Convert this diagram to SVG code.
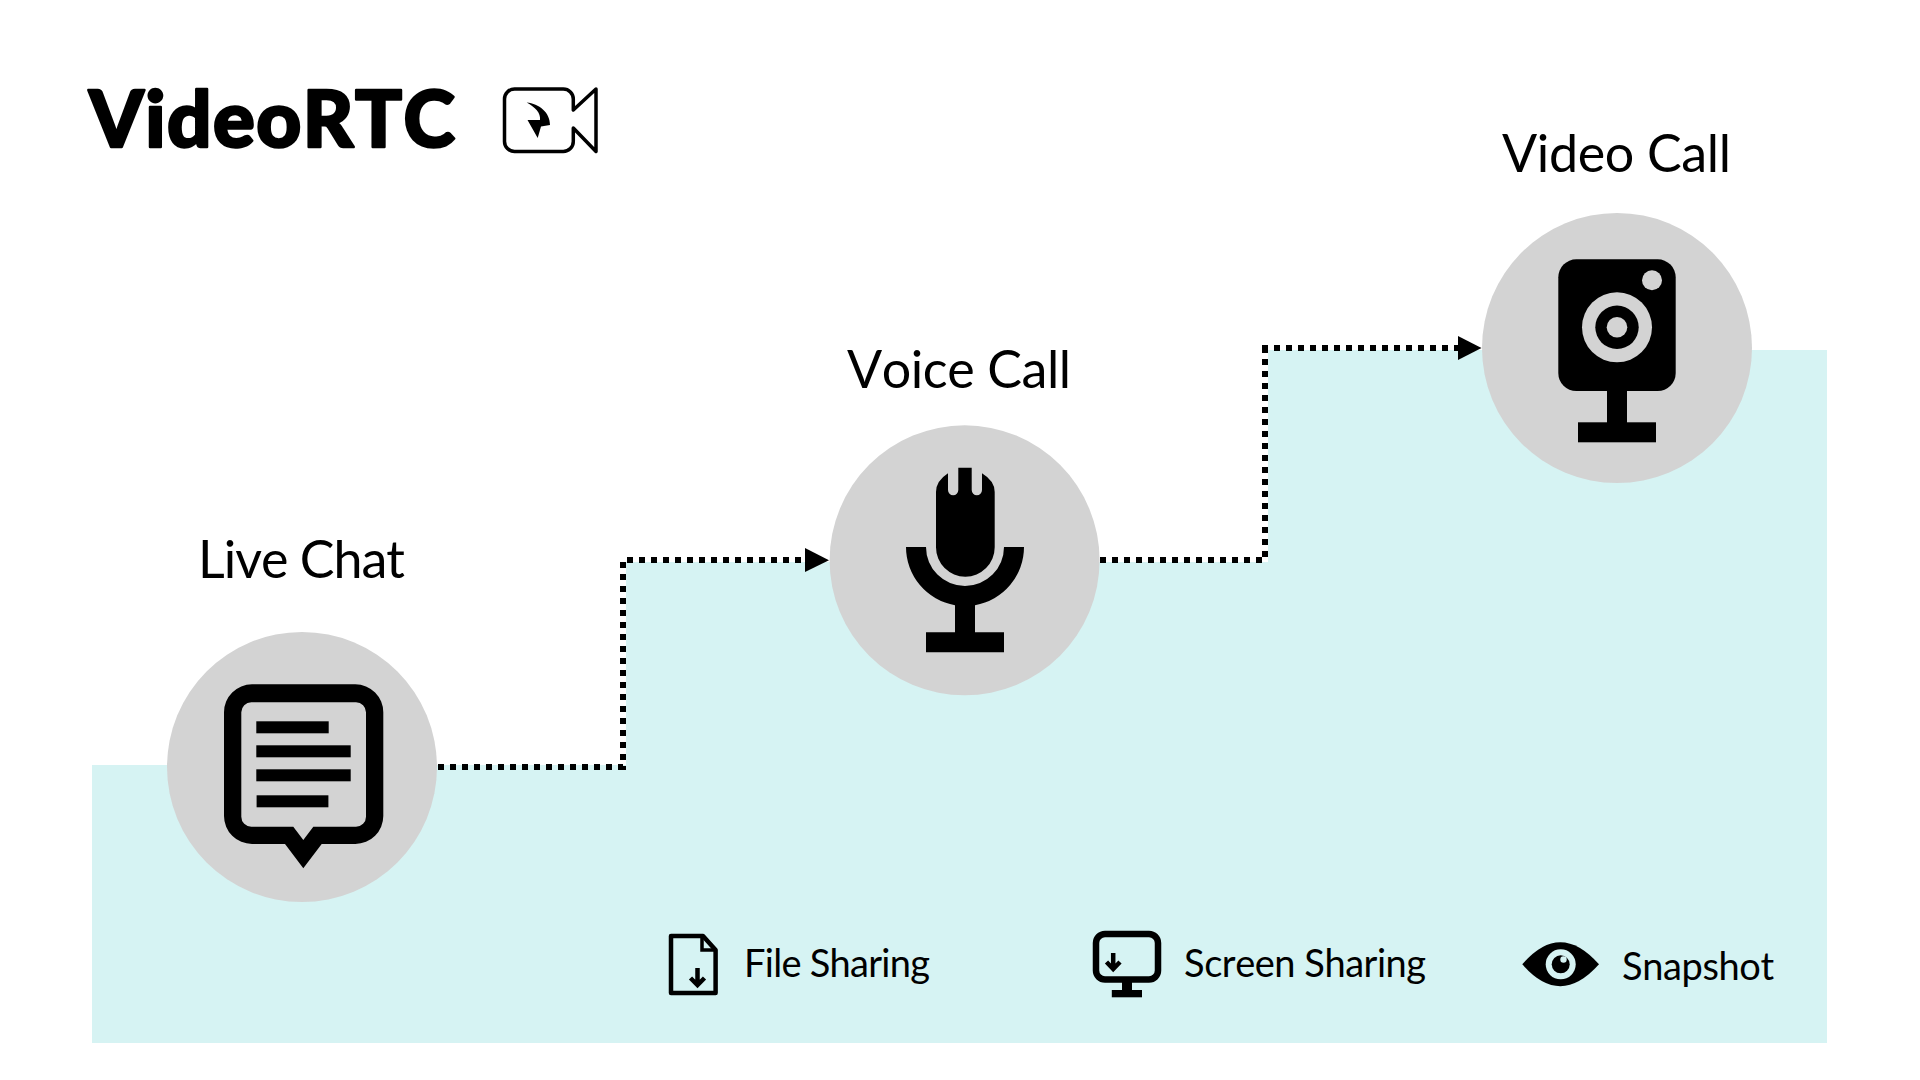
<svg xmlns="http://www.w3.org/2000/svg" width="1920" height="1080" viewBox="0 0 1920 1080">
<style>
text{font-family:"Lato","Noto Sans",sans-serif;fill:#000;font-kerning:none}
.lab{font-size:52px}
.leg{font-size:38px}
.title{font-size:78px;font-weight:900;stroke:#000;stroke-width:2.5px;stroke-linejoin:round}
.disc{fill:#d3d3d3}
.tint{fill:#d6f3f3}
.conn{fill:none;stroke:#000;stroke-width:6;stroke-dasharray:6 6}
.ln{fill:none;stroke:#000;stroke-width:4.5}
</style>
<rect width="1920" height="1080" fill="#fff"/>
<path id="steps" class="tint" d="M92 765H626V562H1268V350H1827V1043H92Z"/>
<g id="connectors">
<path class="conn" d="M438 767H623V560H806"/>
<path d="M805 548L829 560.300L805 572Z"/>
<path class="conn" d="M1100 560H1265V348M1265 345V353M1274 348H1458"/>
<path d="M1458 336L1481.500 348L1458 360Z"/>
</g>
<g id="title">
<text class="title" x="89" y="147" textLength="366">VideoRTC</text>
<g id="logo">
<path d="M573.300 110V99A10 10 0 0 0 563.300 89H514.500A10 10 0 0 0 504.500 99V141.500A10 10 0 0 0 514.500 151.500H563.300A10 10 0 0 0 573.300 141.500V128L596 151.500V89Z" fill="none" stroke="#000" stroke-width="3.500" stroke-linejoin="round"/>
<path d="M526.700 102.500C539 104 550 112 550 125L541 126.500L537.700 138L527.500 120H540C541 113 535 107 526.700 102.500Z"/>
</g>
</g>
<g id="node-live-chat">
<circle class="disc" cx="302" cy="767" r="135"/>
<path fill-rule="evenodd" d="M252 684.300H355.300A28 28 0 0 1 383.300 712.300V816A28 28 0 0 1 355.300 844H321.700L303.300 868.300L285 844H252A28 28 0 0 1 224 816V712.300A28 28 0 0 1 252 684.300ZM251.300 702.300A10 10 0 0 0 241.300 712.300V816.700A10 10 0 0 0 251.300 826.700H293.300L303.300 840L313.300 826.700H356A10 10 0 0 0 366 816.700V712.300A10 10 0 0 0 356 702.300Z"/>
<rect x="256.300" y="721.300" width="72.400" height="12"/>
<rect x="256.300" y="745.300" width="94.400" height="12"/>
<rect x="256.300" y="769.300" width="94.400" height="12"/>
<rect x="256.600" y="795.300" width="71.800" height="12"/>
<text class="lab" x="198" y="578" textLength="207">Live Chat</text>
</g>
<g id="node-voice-call">
<circle class="disc" cx="964.600" cy="560.300" r="135"/>
<path d="M958.300 467.700H971.700V490A5.100 5.100 0 0 0 982 490V473.300Q994.700 481 994.700 492V547.300A29.300 29.300 0 0 1 936 547.300V492Q936 481 948 473.300V490A5.100 5.100 0 0 0 958.300 490Z"/>
<path d="M906 547H926A39 39 0 0 0 1004 547H1024A59 59 0 0 1 975 605.200V632.300H1004V652.300H926V632.300H955V605.200A59 59 0 0 1 906 547Z"/>
<text class="lab" x="847" y="388" textLength="224">Voice Call</text>
</g>
<g id="node-video-call">
<circle class="disc" cx="1617" cy="348" r="135"/>
<rect x="1558.300" y="259.300" width="117.400" height="131.700" rx="18"/>
<circle class="disc" cx="1652" cy="280.300" r="10"/>
<circle class="disc" cx="1617" cy="327.300" r="35"/>
<circle cx="1617" cy="327.300" r="21.700"/>
<circle class="disc" cx="1617" cy="327.300" r="10.300"/>
<rect x="1607" y="385" width="20" height="40"/>
<rect x="1578" y="422.300" width="78" height="20"/>
<text class="lab" x="1502" y="172" textLength="229">Video Call</text>
</g>
<g id="legend-file-sharing">
<path class="ln" d="M671 936H703L715.600 950V993H671Z" stroke-linejoin="round"/>
<path d="M702 936V950H715.600" fill="none" stroke="#000" stroke-width="3.500"/>
<path class="ln" d="M697.500 968V985M690.500 978L697.500 985L704.500 978"/>
<text class="leg" x="744" y="977" textLength="186">File Sharing</text>
</g>
<g id="legend-screen-sharing">
<rect x="1096" y="934" width="62" height="45.500" rx="9" fill="none" stroke="#000" stroke-width="6.500"/>
<path class="ln" d="M1113.200 953V969M1106.500 962L1113.200 969L1120 962"/>
<rect x="1122" y="982" width="10" height="9"/>
<rect x="1111.800" y="990" width="30.200" height="7.300"/>
<text class="leg" x="1184" y="977" textLength="242">Screen Sharing</text>
</g>
<g id="legend-snapshot">
<path d="M1522.300 964.300Q1560 920 1599 964.300Q1560 1008 1522.300 964.300Z"/>
<circle class="tint" cx="1560.700" cy="964.300" r="15"/>
<circle cx="1560.700" cy="964.300" r="9"/>
<circle class="tint" cx="1563.500" cy="959.500" r="3.200"/>
<text class="leg" x="1622" y="980" textLength="152">Snapshot</text>
</g>
</svg>
